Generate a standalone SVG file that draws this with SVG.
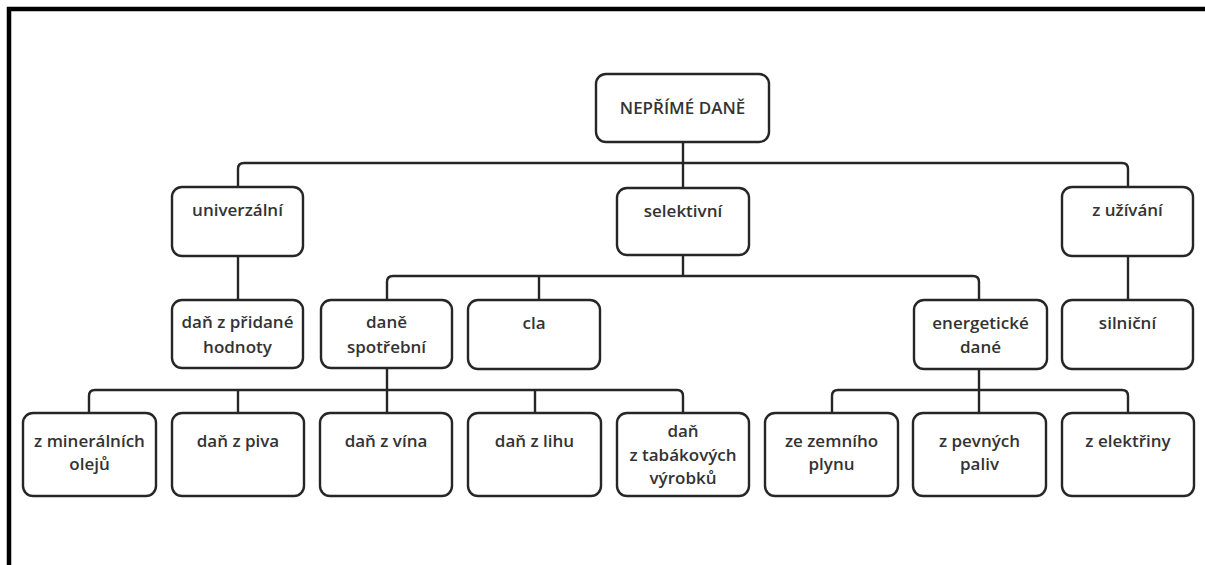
<svg xmlns="http://www.w3.org/2000/svg" width="1205" height="565" viewBox="0 0 1205 565">
<style>
.box{fill:#fff;stroke:#262626;stroke-width:2.4}
.ln{fill:none;stroke:#262626;stroke-width:2.4;stroke-linejoin:round}
.t{font-family:"Open Sans","Noto Sans",sans-serif;font-weight:600;font-size:17px;fill:#333;text-anchor:middle}
</style>
<rect width="1205" height="565" fill="#fff"/>
<path d="M9,565 V9 H1205" fill="none" stroke="#000" stroke-width="4.5"/>
<g id="connectors">
<path class="ln" d="M683,142 V163"/>
<path class="ln" d="M238,187 V169 Q238,163 244,163 H1122 Q1128,163 1128,169 V187"/>
<path class="ln" d="M683,163 V188"/>
<path class="ln" d="M238,256 V300"/>
<path class="ln" d="M1128,256 V300"/>
<path class="ln" d="M683,255 V276"/>
<path class="ln" d="M387,300 V282 Q387,276 393,276 H973 Q979,276 979,282 V300"/>
<path class="ln" d="M539,276 V300"/>
<path class="ln" d="M387,368 V413"/>
<path class="ln" d="M89,413 V396 Q89,390 95,390 H677 Q683,390 683,396 V413"/>
<path class="ln" d="M238,390 V413"/>
<path class="ln" d="M535,390 V413"/>
<path class="ln" d="M979,369 V413"/>
<path class="ln" d="M832,413 V396 Q832,390 838,390 H1122 Q1128,390 1128,396 V413"/>
</g>
<g id="n-neprime"><rect class="box" x="596" y="74" width="173" height="68" rx="10"/><text class="t" x="682.5" y="114" font-size="16.5">NEPŘÍMÉ DANĚ</text></g>
<g id="n-univerzalni"><rect class="box" x="172" y="187" width="131" height="69" rx="10"/><text class="t" x="237.5" y="216">univerzální</text></g>
<g id="n-selektivni"><rect class="box" x="617" y="188" width="132" height="67" rx="10"/><text class="t" x="683" y="217">selektivní</text></g>
<g id="n-uzivani"><rect class="box" x="1062" y="187" width="131" height="69" rx="10"/><text class="t" x="1127.5" y="216">z užívání</text></g>
<g id="n-dph"><rect class="box" x="172" y="300" width="131" height="68" rx="10"/><text class="t" x="237.5" y="328">daň z přidané</text><text class="t" x="237.5" y="353">hodnoty</text></g>
<g id="n-spotrebni"><rect class="box" x="321" y="300" width="131" height="68" rx="10"/><text class="t" x="386.5" y="328">daně</text><text class="t" x="386.5" y="353">spotřební</text></g>
<g id="n-cla"><rect class="box" x="468" y="300" width="132" height="69" rx="10"/><text class="t" x="534" y="329">cla</text></g>
<g id="n-energeticke"><rect class="box" x="914" y="300" width="133" height="69" rx="10"/><text class="t" x="980.5" y="329">energetické</text><text class="t" x="980.5" y="353">dané</text></g>
<g id="n-silnicni"><rect class="box" x="1062" y="300" width="131" height="69" rx="10"/><text class="t" x="1127.5" y="329">silniční</text></g>
<g id="n-mineralni"><rect class="box" x="23" y="413" width="133" height="83" rx="10"/><text class="t" x="89.5" y="447">z minerálních</text><text class="t" x="89.5" y="470">olejů</text></g>
<g id="n-pivo"><rect class="box" x="172" y="413" width="132" height="83" rx="10"/><text class="t" x="238" y="447">daň z piva</text></g>
<g id="n-vino"><rect class="box" x="320" y="413" width="132" height="83" rx="10"/><text class="t" x="386" y="447">daň z vína</text></g>
<g id="n-lih"><rect class="box" x="468" y="413" width="133" height="83" rx="10"/><text class="t" x="534.5" y="447">daň z lihu</text></g>
<g id="n-tabak"><rect class="box" x="617" y="413" width="132" height="83" rx="10"/><text class="t" x="683" y="437">daň</text><text class="t" x="683" y="461">z tabákových</text><text class="t" x="683" y="484">výrobků</text></g>
<g id="n-plyn"><rect class="box" x="765" y="413" width="133" height="83" rx="10"/><text class="t" x="831.5" y="447">ze zemního</text><text class="t" x="831.5" y="470">plynu</text></g>
<g id="n-paliva"><rect class="box" x="913" y="413" width="133" height="83" rx="10"/><text class="t" x="979.5" y="447">z pevných</text><text class="t" x="979.5" y="470">paliv</text></g>
<g id="n-elektrina"><rect class="box" x="1062" y="413" width="132" height="83" rx="10"/><text class="t" x="1128" y="447">z elektřiny</text></g>
</svg>
